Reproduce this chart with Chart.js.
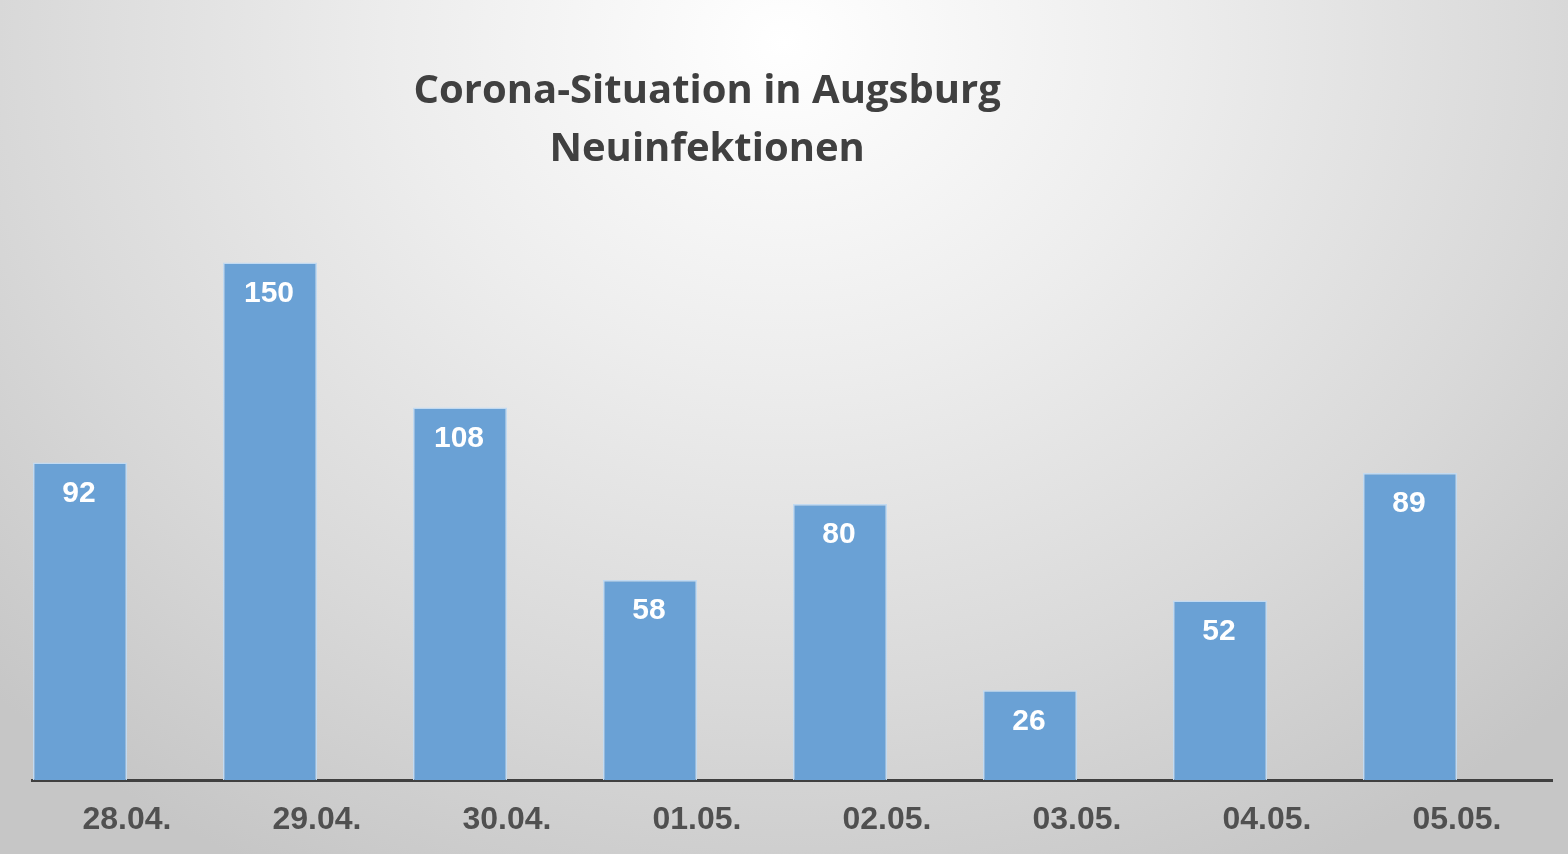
<!DOCTYPE html>
<html>
<head>
<meta charset="utf-8">
<script src="https://cdn.jsdelivr.net/npm/chart.js@4/dist/chart.umd.min.js"></script>
<style>
  html, body { margin: 0; padding: 0; }
  body {
    width: 1568px; height: 854px; overflow: hidden;
    background: radial-gradient(ellipse 70% 110% at 50% 5%, #ffffff 0%, #ededed 35%, #d9d9d9 70%, #c6c6c6 100%);
  }
  #wrap { position: relative; width: 1568px; height: 854px; }
</style>
</head>
<body>
<div id="wrap"><canvas id="coronaChart"></canvas></div>
<script>
const days = ['28.04.', '29.04.', '30.04.', '01.05.', '02.05.', '03.05.', '04.05.', '05.05.'];
const newInfections = [92, 150, 108, 58, 80, 26, 52, 89];
const emptySeries = [null, null, null, null, null, null, null, null];
const titleLines = ['Corona-Situation in Augsburg', 'Neuinfektionen'];

// title sits left of center in the original, so draw it ourselves
const titlePlugin = {
    id: 'leftTitle',
    afterDraw(chart) {
        const ctx = chart.ctx;
        ctx.save();
        ctx.fillStyle = '#404040';
        ctx.font = 'bold 40px "Open Sans"';
        ctx.textAlign = 'center';
        ctx.textBaseline = 'middle';
        const x = chart.width * 0.451;
        ctx.fillText(titleLines[0], x, 92);
        ctx.fillText(titleLines[1], x, 150);
        ctx.restore();
    }
};

const valueLabels = {
    id: 'valueLabels',
    afterDatasetsDraw(chart) {
        const ctx = chart.ctx;
        const meta = chart.getDatasetMeta(0);
        ctx.save();
        ctx.fillStyle = '#ffffff';
        ctx.font = 'bold 30px "Liberation Sans"';
        ctx.textAlign = 'center';
        ctx.textBaseline = 'middle';
        meta.data.forEach((bar, i) => {
            ctx.fillText(newInfections[i], bar.x - 1, bar.y + 31);
        });
        ctx.restore();
    }
};

const ctx = document.getElementById('coronaChart').getContext('2d');
const coronaChart = new Chart(ctx, {
    type: 'bar',
    data: {
        labels: days,
        datasets: [{
            label: 'Neuinfektionen',
            data: newInfections,
            backgroundColor: '#6aa1d5',
            borderColor: '#c2daf1',
            borderWidth: 1.5,
            categoryPercentage: 0.99,
            barPercentage: 1.0
        }, {
            label: '',
            data: emptySeries,
            backgroundColor: 'rgba(0,0,0,0)',
            categoryPercentage: 0.99,
            barPercentage: 1.0
        }]
    },
    options: {
        responsive: true,
        maintainAspectRatio: false,
        animation: false,
        layout: {
            padding: { top: 228, left: 32, right: 16, bottom: 0 }
        },
        plugins: {
            legend: { display: false },
            tooltip: { enabled: false },
            title: { display: false }
        },
        scales: {
            x: {
                grid: { display: false, drawTicks: false },
                border: { display: true, color: '#404040', width: 3 },
                ticks: {
                    color: '#505050',
                    font: { family: 'Liberation Sans', weight: 'bold', size: 32 },
                    padding: 21
                },
                afterFit(scale) { scale.height = 74; }
            },
            y: {
                display: false,
                min: 0,
                max: 160,
                beginAtZero: true
            }
        }
    },
    plugins: [titlePlugin, valueLabels]
});
</script>
</body>
</html>
